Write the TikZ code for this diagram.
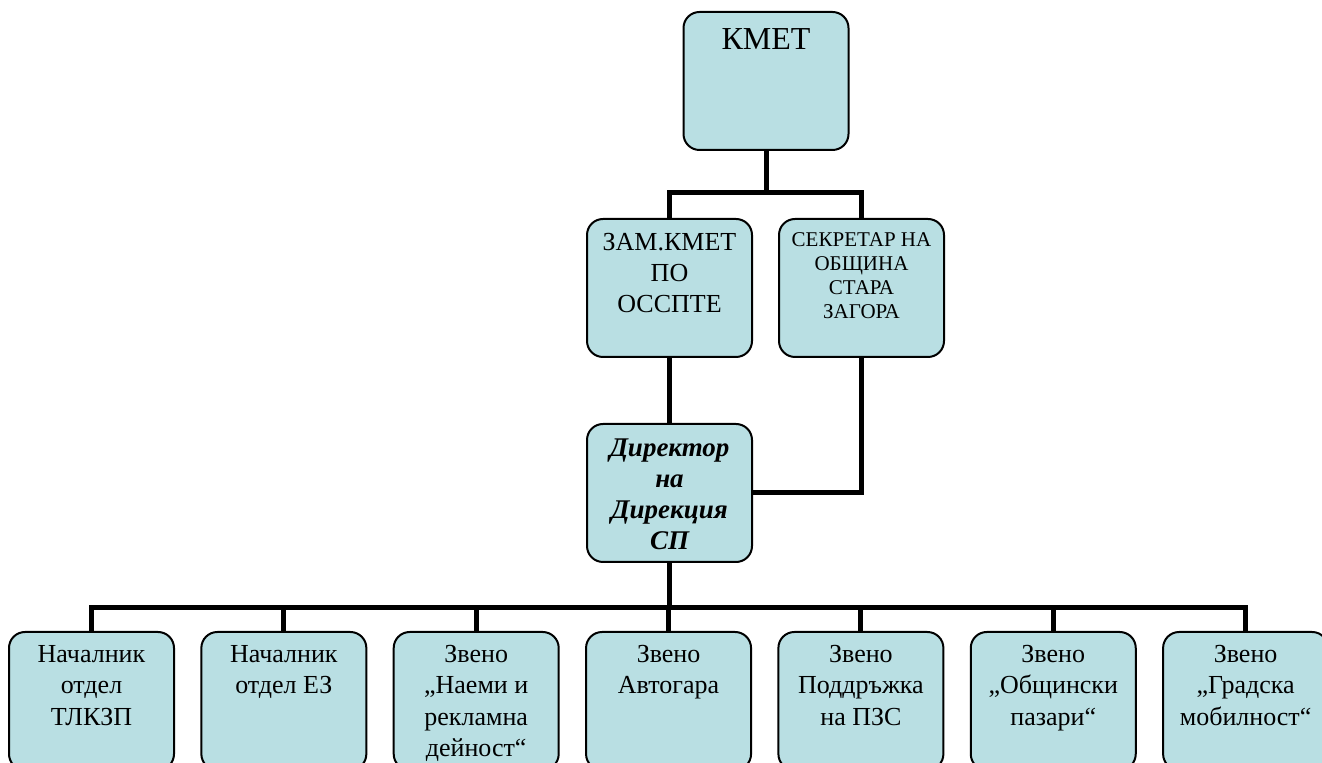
\documentclass[tikz,border=0pt]{standalone}
\usepackage{fontspec}
\setmainfont{Liberation Serif}
\definecolor{boxfill}{RGB}{185,223,227}
\newcommand{\boxtext}[3]{\parbox[c][69pt][t]{80pt}{\centering#1\rule{0pt}{#2}#3}}

\begin{document}
\begin{tikzpicture}[
    x=0.5pt,y=-0.5pt,wire/.style={line width=2.5pt},
    unitbox/.style={draw, line width=1pt, rounded corners=8pt, fill=boxfill,
      minimum width=82.5pt, minimum height=69pt, inner sep=0pt}
    ]
    \useasboundingbox (0, 0) rectangle (1322, 763);
    \node[unitbox] (kmet) at (766, 81) {\boxtext{\fontsize{16}{19}\selectfont}{19pt}{КМЕТ}};
    \node[unitbox] (zam) at (669.5, 288) {\boxtext{\fontsize{13}{15.5}\selectfont}{16pt}{ЗАМ.КМЕТ\\ПО\\ОССПТЕ}};
    \node[unitbox] (sek) at (861.5, 288) {\boxtext{\fontsize{10.5}{12}\selectfont}{14pt}{СЕКРЕТАР НА\\ОБЩИНА\\СТАРА\\ЗАГОРА}};
    \node[unitbox] (dir) at (669.5, 493) {\boxtext{\fontsize{13.5}{15.4}\selectfont\bfseries\itshape}{16.5pt}{Директор\\на\\Дирекция\\СП}};
    \foreach \i/\t in {1/{Началник\\отдел\\ТЛКЗП}, 2/{Началник\\отдел ЕЗ},
        3/{Звено\\„Наеми и\\рекламна\\дейност“}, 4/{Звено\\Автогара},
        5/{Звено\\Поддръжка\\на ПЗС}, 6/{Звено\\„Общински\\пазари“},
        7/{Звено\\„Градска\\мобилност“}}
      \node[unitbox] (u\i) at ({91.5+(\i-1)*192.35}, 701) {\boxtext{\fontsize{13}{15.5}\selectfont}{15.5pt}{\t}};
    \coordinate (b1) at (766, 193);
    \coordinate (b2) at (669.5, 608);
    \draw[wire] (kmet) -- (b1);
    \draw[wire] (zam.north) |- (b1) -| (sek.north);
    \draw[wire] (zam) -- (dir);
    \draw[wire] (sek.south) |- (dir.east);
    \draw[wire] (dir) -- (b2);
    \foreach \i in {1,...,7}
      \draw[wire] (u\i.north) |- (b2);
  \end{tikzpicture}
\end{document}
